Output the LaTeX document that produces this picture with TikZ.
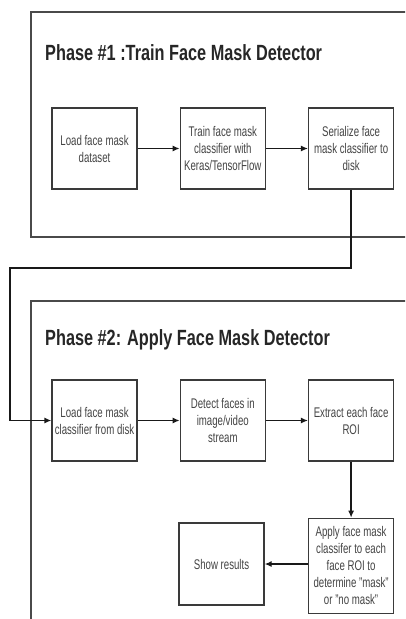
\documentclass[tikz,border=0pt]{standalone}
\usepackage{fontspec}
\setmainfont[FakeStretch=0.69]{Liberation Sans}
\newfontfamily\titlefont[FakeStretch=0.74]{Liberation Sans}
\usepackage{xcolor}
\usepackage{tikz}
\usetikzlibrary{positioning,calc,arrows.meta}

\definecolor{framegray}{HTML}{4A4A4A}
\definecolor{boxgray}{HTML}{3A3A3A}
\definecolor{textgray}{HTML}{444444}

\begin{document}
\begin{tikzpicture}[
	x=1pt, y=-1pt,
	% Style cho các khung giai đoạn
	phaseframe/.style={framegray, line width=1.6pt},
	% Style cho tiêu đề giai đoạn
	phasetitle/.style={anchor=base west, inner sep=0pt, text=black!85,
		font=\titlefont\bfseries\fontsize{22}{26}\selectfont},
	% Style cho các ô xử lý
	stepbox/.style={draw=boxgray, line width=1.3pt, fill=white,
		minimum width=85pt, minimum height=81pt,
		align=center, inner sep=1pt, text=textgray,
		font=\fontsize{14}{17}\selectfont},
	% Style cho mũi tên
	flow/.style={-{Latex[length=7pt,width=6pt]}, black!90, line width=1.3pt}
	]
	\useasboundingbox (0,0) rectangle (405,619);
	\clip (0,0) rectangle (405,619);
	
	% --- KHUNG GIAI ĐOẠN ---
	\draw[phaseframe] (410,12) -- (31,12) -- (31,237) -- (410,237);
	\draw[phaseframe] (410,301) -- (31,301) -- (31,625);
	
	% --- TIÊU ĐỀ ---
	\node[phasetitle] (title1) at (45,60) {Phase \#1 :Train Face Mask Detector};
	\node[phasetitle] (title2) at (45,345) {Phase \#2: Apply Face Mask Detector};
	
	% --- GIAI ĐOẠN 1 ---
	\node[stepbox] (loadset) at (94.5,148.5) {Load face mask\\ dataset};
	\node[stepbox, right=42pt of loadset] (train) {Train face mask\\ classifier with\\ Keras/TensorFlow};
	\node[stepbox, right=42pt of train] (serial) {Serialize face\\ mask classifier to\\ disk};
	
	% --- GIAI ĐOẠN 2 ---
	\node[stepbox] (loadclf) at (94.5,420.5) {Load face mask\\ classifier from disk};
	\node[stepbox, right=42pt of loadclf] (detect) {Detect faces in\\ image/video\\ stream};
	\node[stepbox, right=42pt of detect] (roi) {Extract each face\\ ROI};
	\node[stepbox, minimum height=95pt, below=56pt of roi] (apply) {Apply face mask\\ classifer to each\\ face ROI to\\ determine "mask"\\ or "no mask"};
	\node[stepbox, minimum height=82pt] (show) at (221.5,564) {Show results};
	
	% --- MŨI TÊN ---
	\draw[flow] (loadset) -- (train);
	\draw[flow] (train) -- (serial);
	\coordinate (bend) at (10,268);
	\draw[flow] (serial.south) |- (bend) |- (loadclf.west);
	\draw[flow] (loadclf) -- (detect);
	\draw[flow] (detect) -- (roi);
	\draw[flow] (roi) -- (apply);
	\draw[flow] (apply.west |- show.east) -- (show.east);
	
\end{tikzpicture}
\end{document}
